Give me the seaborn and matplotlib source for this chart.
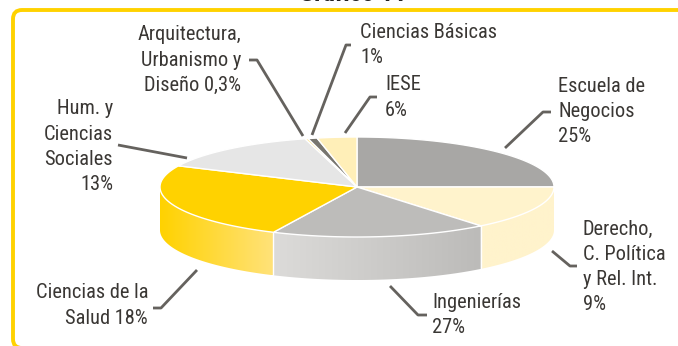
import numpy as np
import matplotlib
matplotlib.use("Agg")
import matplotlib.pyplot as plt
from matplotlib.patches import Polygon, FancyBboxPatch
from matplotlib import font_manager as fm
import seaborn as sns

# Categories in clockwise order from twelve o'clock
categories = ["Escuela de Negocios", "Derecho", "Ingenierías", "Ciencias de la Salud",
              "Hum. y Ciencias Sociales", "Arquitectura", "Ciencias Básicas", "IESE"]
# Slice sizes as drawn in the picture (they differ from the printed percentages)
drawn_shares = [25.0, 14.2, 17.8, 25.0, 13.8, 0.25, 0.75, 3.25]
top_colors = ["#A8A7A5", "#FFF3CC", "#BDBCBA", "#FFD200", "#E6E6E6", "#FFE38A", "#77756F", "#FFEFB8"]
side_left = ["#A8A7A5", "#FFF3CC", "#DCDBD9", "#FFD200", "#E6E6E6", "#FFE38A", "#77756F", "#FFEFB8"]
side_right = ["#A8A7A5", "#FFF3CC", "#BCBBB9", "#FFE27A", "#E6E6E6", "#FFE38A", "#77756F", "#FFEFB8"]

label_texts = ["Escuela de\nNegocios\n25%", "Derecho,\nC. Política\ny Rel. Int.\n9%",
               "Ingenierías\n27%", "Ciencias de la\nSalud 18%", "Hum. y\nCiencias\nSociales\n13%",
               "Arquitectura,\nUrbanismo y\nDiseño 0,3%", "Ciencias Básicas\n1%", "IESE\n6%"]
label_x = [558, 583, 432, 148, 113, 241, 360, 385]
label_y = [76.5, 219.5, 292.5, 283.5, 99.5, 25.5, 22.5, 75.5]
label_ha = ["left", "left", "left", "right", "right", "right", "left", "left"]
leaders = [
    [(505, 148), (543, 112), (551, 112)],
    [(552, 251), (570, 266), (577, 266)],
    [(390, 286), (418, 315), (427, 315)],
    [(197, 270), (161, 308), (153, 308)],
    [(187, 158), (118, 145)],
    [(303, 136), (257, 60), (249, 60)],
    [(312, 135), (346, 45), (351, 45)],
    [(345, 133), (370, 97), (377, 97)],
]
title_text = "Gráfico 11"

W, H = 678, 346
CX, CY, RX, RY, DEPTH = 357, 187, 197, 50, 43
TEXT = "#3A3734"
LINE = "#65625E"

sns.set_theme(style="white")
available = {f.name for f in fm.fontManager.ttflist}
narrow = [n for n in ["Roboto Condensed", "Open Sans Condensed", "Liberation Sans Narrow", "Roboto"] if n in available]
plt.rcParams["font.family"] = narrow + ["DejaVu Sans"]

fig = plt.figure(figsize=(W / 100, H / 100), dpi=100, facecolor="white")
ax = fig.add_axes([0, 0, 1, 1])
ax.set_xlim(0, W)
ax.set_ylim(H, 0)
ax.axis("off")


def arc(t0, t1, dy=0.0):
    t = np.radians(np.linspace(t0, t1, max(int(abs(t1 - t0) * 2), 2)))
    return np.column_stack([CX + RX * np.cos(t), CY - RY * np.sin(t) + dy])


# Frame
ax.add_patch(FancyBboxPatch((13, 10), 800, 338, boxstyle="round,pad=0,rounding_size=9",
                            fc="white", ec="#FFD200", lw=2.8, clip_on=True, zorder=1))
ax.text(353, 1.2, title_text, ha="center", va="baseline", fontsize=18.5,
        fontweight="bold", color="#222222", zorder=2)

total = sum(drawn_shares)
angles = 90 - np.cumsum([0] + drawn_shares) * 360 / total

# Side walls (only the part of each slice on the near half)
for i in range(len(drawn_shares)):
    hi, lo = angles[i], angles[i + 1]
    hi_n = min(hi, 0)
    lo_n = max(lo, -180)
    if hi <= -180 or lo >= 0 or hi_n <= lo_n:
        continue
    top = arc(lo_n, hi_n)
    bottom = arc(hi_n, lo_n, DEPTH)
    poly = Polygon(np.vstack([top, bottom]), closed=True, fc="none", ec="none", zorder=3)
    ax.add_patch(poly)
    cmap = sns.blend_palette([side_left[i], side_right[i]], as_cmap=True)
    xs = np.concatenate([top[:, 0], bottom[:, 0]])
    ys = np.concatenate([top[:, 1], bottom[:, 1]])
    im = ax.imshow(np.linspace(0, 1, 128)[None, :], cmap=cmap, aspect="auto", zorder=3,
                   extent=[xs.min(), xs.max(), ys.max(), ys.min()], vmin=0, vmax=1)
    im.set_clip_path(poly)
    x_edge = CX + RX * np.cos(np.radians(lo_n))
    y_edge = CY - RY * np.sin(np.radians(lo_n))
    if lo_n > -180:
        ax.plot([x_edge, x_edge], [y_edge, y_edge + DEPTH], color="white", lw=1.0, zorder=4)

ax.set_xlim(0, W)
ax.set_ylim(H, 0)

# Top faces
for i in range(len(drawn_shares)):
    pts = np.vstack([[CX, CY], arc(angles[i], angles[i + 1])])
    ax.add_patch(Polygon(pts, closed=True, fc=top_colors[i], ec="white", lw=1.0,
                         joinstyle="round", zorder=5))

# Labels and leader lines
for txt, x, y, ha in zip(label_texts, label_x, label_y, label_ha):
    ax.text(x, y, txt, ha=ha, va="top", fontsize=14.7, color=TEXT, linespacing=1.41, zorder=7)
for seg in leaders:
    pts = np.array(seg)
    ax.plot(pts[:, 0], pts[:, 1], color=LINE, lw=2.0, solid_capstyle="butt",
            solid_joinstyle="round", zorder=6)

fig.savefig("out.png", dpi=100, facecolor="white")
